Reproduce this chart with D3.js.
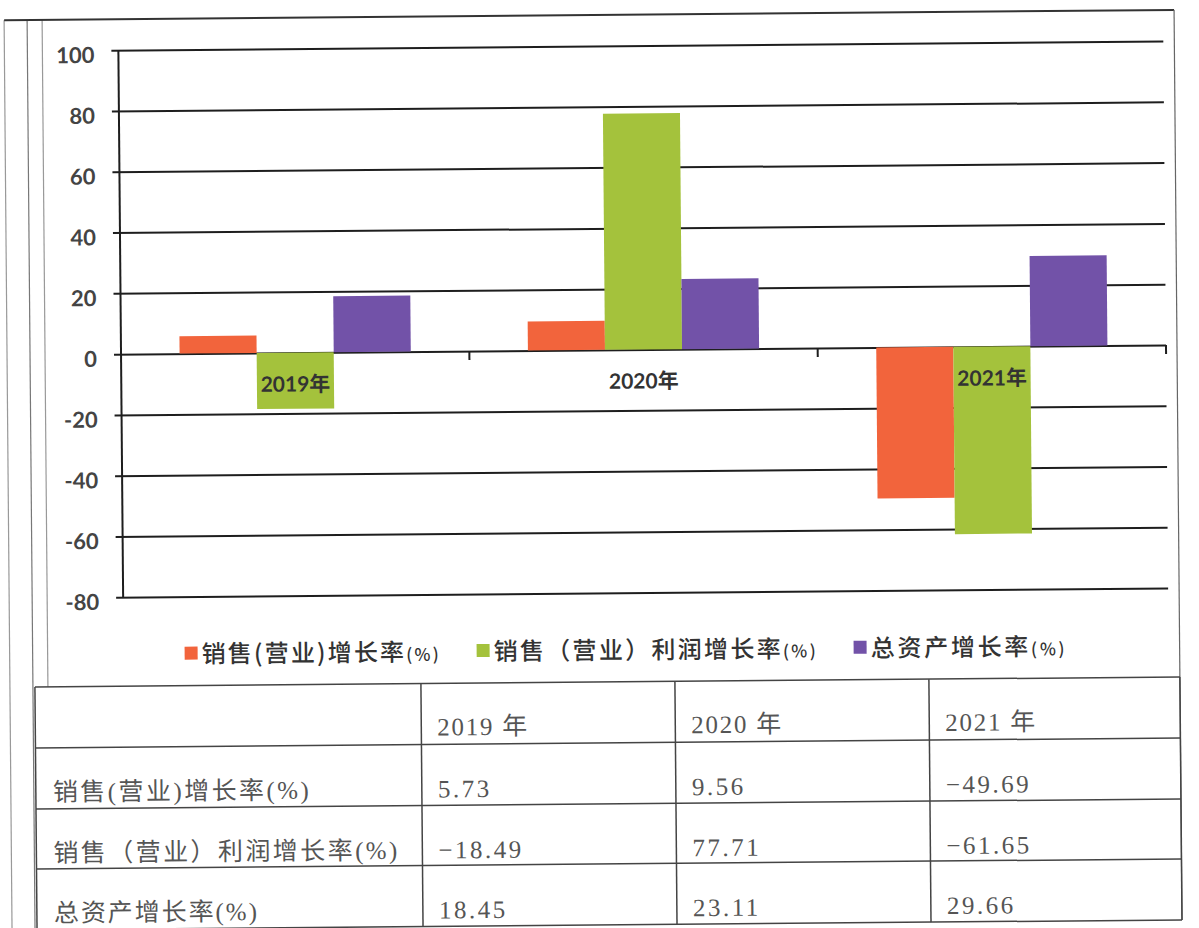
<!DOCTYPE html>
<html lang="zh-CN">
<head>
<meta charset="utf-8">
<title>增长率对比</title>
<script src="https://cdn.jsdelivr.net/npm/d3@7"></script>
<style>
  body { margin: 0; background: #fff; }
</style>
</head>
<body>
<script>
// data
var years = ["2019年", "2020年", "2021年"];
var tableYears = ["2019 年", "2020 年", "2021 年"];
var seriesNames = ["销售(营业)增长率(%)", "销售（营业）利润增长率(%)", "总资产增长率(%)"];
var salesGrowth = [5.73, 9.56, -49.69];
var profitGrowth = [-18.49, 77.71, -61.65];
var assetGrowth = [18.45, 23.11, 29.66];
var yTicks = [100, 80, 60, 40, 20, 0, -20, -40, -60, -80];

var series = [salesGrowth, profitGrowth, assetGrowth];
var colors = ["#f2643c", "#a4c23c", "#7252a8"];

var W = 1199, H = 928;
var svg = d3.select("body").append("svg").attr("width", W).attr("height", H);
// the scan is slightly tilted
var g = svg.append("g").attr("transform", "rotate(-0.5,600,464)");

var x = d3.scaleBand().domain(years).range([122, 1167]);
var xi = d3.scaleBand().domain([0, 1, 2]).range([0, x.bandwidth()]).paddingOuter(0.76);
var y = d3.scaleLinear().domain([-80, 100]).range([593, 46]);

//frame
var frame = g.append("g").attr("fill", "none");
frame.append("line").attr("x1", 8).attr("x2", 8).attr("y1", 15).attr("y2", 940)
  .attr("stroke", "#999").attr("stroke-width", 1.2);
frame.append("line").attr("x1", 31).attr("x2", 31).attr("y1", 15).attr("y2", 940)
  .attr("stroke", "#777").attr("stroke-width", 1.2);
frame.append("line").attr("x1", 46).attr("x2", 46).attr("y1", 15).attr("y2", 682)
  .attr("stroke", "#999").attr("stroke-width", 1.2);
frame.append("line").attr("x1", 8).attr("x2", 1178).attr("y1", 15).attr("y2", 15)
  .attr("stroke", "#333").attr("stroke-width", 2);
frame.append("line").attr("x1", 1178).attr("x2", 1178).attr("y1", 15).attr("y2", 925)
  .attr("stroke", "#666").attr("stroke-width", 1.2);

// gridlines + y labels
var yAxis = g.append("g")
  .attr("transform", "translate(115,0)")
  .call(d3.axisLeft(y).tickValues(yTicks).tickSize(-(1167 - 115)).tickPadding(17)
    .tickFormat(function (d) { return String(d); }));
yAxis.select(".domain").remove();
yAxis.selectAll(".tick line").attr("stroke", "#1e1e1e").attr("stroke-width", 2);
yAxis.selectAll(".tick text")
  .attr("y", 5)
  .attr("font-family", "Lato, 'Noto Sans', sans-serif")
  .attr("font-weight", "bold")
  .attr("font-size", 22)
  .attr("fill", "#444");

g.append("line").attr("x1", 122).attr("x2", 122).attr("y1", y(100)).attr("y2", y(-80))
  .attr("stroke", "#1e1e1e").attr("stroke-width", 2);

// bars
series.forEach(function (vals, s) {
  g.append("g").selectAll("rect")
    .data(vals)
    .enter()
    .append("rect")
    .attr("x", function (d, i) { return x(years[i]) + xi(s); })
    .attr("width", xi.bandwidth())
    .attr("y", function (d) { return y(Math.max(0, d)); })
    .attr("height", function (d) { return Math.abs(y(d) - y(0)); })
    .attr("fill", colors[s]);
});

// category ticks and labels
g.append("g").selectAll("line")
  .data(years)
  .enter()
  .append("line")
  .attr("x1", function (d) { return x(d) + x.bandwidth(); })
  .attr("x2", function (d) { return x(d) + x.bandwidth(); })
  .attr("y1", y(0)).attr("y2", y(0) + 9)
  .attr("stroke", "#1e1e1e").attr("stroke-width", 2);

g.append("g").selectAll("text")
  .data(years)
  .enter()
  .append("text")
  .attr("x", function (d) { return x(d) + x.bandwidth() / 2; })
  .attr("y", y(0) + 39)
  .attr("text-anchor", "middle")
  .attr("font-family", "Lato, 'Noto Sans CJK SC', sans-serif")
  .attr("font-weight", "bold")
  .attr("font-size", 21)
  .attr("fill", "#333")
  .text(function (d) { return d; });

// legend
var legendWidths = [237, 322, 194];
var lx = 183, ly = 650;
var legend = g.append("g");
seriesNames.forEach(function (name, s) {
  legend.append("rect").attr("x", lx).attr("y", ly - 7).attr("width", 13).attr("height", 13)
    .attr("fill", colors[s]);
  var t = legend.append("text")
    .attr("x", lx + 17).attr("y", ly + 9)
    .attr("font-family", "'Noto Sans CJK SC', sans-serif")
    .attr("font-weight", 500)
    .attr("font-size", 24)
    .attr("fill", "#333")
    .attr("textLength", legendWidths[s])
    .attr("lengthAdjust", "spacing");
  t.append("tspan").text(name.replace("(%)", ""));
  t.append("tspan").attr("font-size", 17).text("(%)");
  lx += 17 + legendWidths[s] + 38;
});

// table
var colX = [33, 419, 673, 927, 1178];
var rowY = [682, 743, 804, 864, 925];
var table = g.append("g");
rowY.forEach(function (ry) {
  table.append("line").attr("x1", colX[0]).attr("x2", colX[4]).attr("y1", ry).attr("y2", ry)
    .attr("stroke", "#444").attr("stroke-width", 1.5);
});
colX.forEach(function (cx) {
  table.append("line").attr("x1", cx).attr("x2", cx).attr("y1", rowY[0]).attr("y2", rowY[4])
    .attr("stroke", "#444").attr("stroke-width", 1.5);
});

var cellFont = "'Liberation Serif', 'Noto Sans CJK SC', serif";
tableYears.forEach(function (d, i) {
  table.append("text")
    .attr("x", colX[i + 1] + 16).attr("y", rowY[0] + 52)
    .attr("font-family", cellFont).attr("font-size", 25).attr("fill", "#555")
    .attr("textLength", 90).attr("lengthAdjust", "spacing")
    .text(d);
});
var labelWidths = [256, 344, 203];
var fmt = d3.format(".2f");
seriesNames.forEach(function (name, s) {
  table.append("text")
    .attr("x", colX[0] + 17).attr("y", rowY[s + 1] + 53)
    .attr("font-family", cellFont).attr("font-size", 25).attr("fill", "#555")
    .attr("textLength", labelWidths[s]).attr("lengthAdjust", "spacing")
    .text(name);
  series[s].forEach(function (v, i) {
    table.append("text")
      .attr("x", colX[i + 1] + 16).attr("y", rowY[s + 1] + 53)
      .attr("font-family", cellFont).attr("font-size", 25).attr("fill", "#555")
      .attr("letter-spacing", 2.5)
      .text(fmt(v).replace("-", "−"));
  });
});
</script>
</body>
</html>
